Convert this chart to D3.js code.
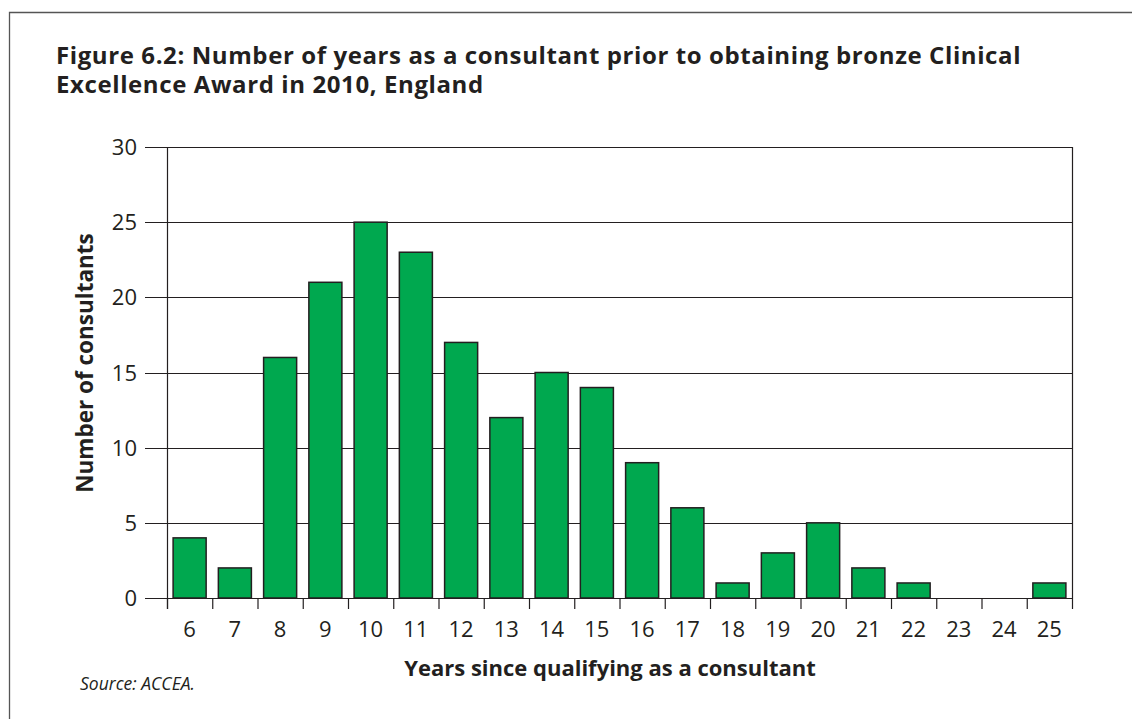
<!DOCTYPE html>
<html>
<head>
<meta charset="utf-8">
<script src="https://cdn.jsdelivr.net/npm/d3@7"></script>
<style>
  body { margin: 0; background: #fff; }
  text { font-family: "Open Sans", "Noto Sans", sans-serif; fill: #231f20; }
</style>
</head>
<body>
<div class="chartcontainer"></div>
<script>
const years = ['6', '7', '8', '9', '10', '11', '12', '13', '14', '15', '16', '17', '18', '19', '20', '21', '22', '23', '24', '25']
const consultants = [4, 2, 16, 21, 25, 23, 17, 12, 15, 14, 9, 6, 1, 3, 5, 2, 1, 0, 0, 1]
const yTicks = [0, 5, 10, 15, 20, 25, 30]

const w = 1132
const h = 719
const plotLeft = 167, plotRight = 1072, plotTop = 147, plotBottom = 598

const svg = d3.select('.chartcontainer')
    .append('svg')
    .attr('width', w)
    .attr('height', h)

// frame
svg.append('path')
    .attr('d', 'M9.5,' + h + 'V12.5H' + w)
    .attr('fill', 'none')
    .attr('stroke', '#555')
    .attr('stroke-width', 1.3)

svg.append('text')
    .attr('x', 56)
    .attr('y', 64)
    .attr('font-weight', 'bold')
    .attr('font-size', 24)
    .attr('letter-spacing', 0.6)
    .selectAll('tspan')
    .data(['Figure 6.2: Number of years as a consultant prior to obtaining bronze Clinical',
           'Excellence Award in 2010, England'])
    .enter()
    .append('tspan')
    .attr('x', 56)
    .attr('dy', (d, i) => i === 0 ? 0 : 29)
    .text(d => d)

const xScale = d3.scaleBand()
    .domain(years)
    .range([plotLeft, plotRight])
    .paddingInner(0.27)
    .paddingOuter(0.135)

const yScale = d3.scaleLinear()
    .domain([0, 30])
    .range([plotBottom, plotTop])

// gridlines
svg.append('g')
    .selectAll('line')
    .data(yTicks)
    .enter()
    .append('line')
    .attr('x1', plotLeft - 22)
    .attr('x2', plotRight)
    .attr('y1', d => Math.round(yScale(d)) + 0.5)
    .attr('y2', d => Math.round(yScale(d)) + 0.5)
    .attr('stroke', '#231f20')
    .attr('stroke-width', 1.2)

// bars
svg.append('g')
    .selectAll('rect')
    .data(consultants)
    .enter()
    .append('rect')
    .attr('x', (d, i) => xScale(years[i]))
    .attr('y', d => yScale(d))
    .attr('width', xScale.bandwidth())
    .attr('height', d => yScale(0) - yScale(d))
    .attr('fill', '#00a84f')
    .attr('stroke', '#231f20')
    .attr('stroke-width', 1.5)

// axes lines
svg.append('line')
    .attr('x1', plotLeft + 0.5).attr('x2', plotLeft + 0.5)
    .attr('y1', plotTop).attr('y2', plotBottom + 11)
    .attr('stroke', '#231f20').attr('stroke-width', 1.2)

svg.append('line')
    .attr('x1', plotRight + 0.5).attr('x2', plotRight + 0.5)
    .attr('y1', plotTop).attr('y2', plotBottom + 11)
    .attr('stroke', '#231f20').attr('stroke-width', 1.2)

// x ticks at band boundaries
const step = xScale.step()
svg.append('g')
    .selectAll('line')
    .data(years)
    .enter()
    .append('line')
    .attr('x1', (d, i) => plotLeft + i * step + 0.5)
    .attr('x2', (d, i) => plotLeft + i * step + 0.5)
    .attr('y1', plotBottom)
    .attr('y2', plotBottom + 11)
    .attr('stroke', '#231f20')
    .attr('stroke-width', 1.2)

svg.append('g')
    .selectAll('text')
    .data(years)
    .enter()
    .append('text')
    .attr('x', d => xScale(d) + xScale.bandwidth() / 2)
    .attr('y', 637)
    .attr('text-anchor', 'middle')
    .attr('font-size', 22)
    .text(d => d)

svg.append('g')
    .selectAll('text')
    .data(yTicks)
    .enter()
    .append('text')
    .attr('x', 137)
    .attr('y', d => yScale(d) + 8)
    .attr('text-anchor', 'end')
    .attr('font-size', 22)
    .text(d => d)

svg.append('text')
    .text('Years since qualifying as a consultant')
    .attr('x', 610)
    .attr('y', 676)
    .attr('text-anchor', 'middle')
    .attr('font-weight', 'bold')
    .attr('font-size', 22)

svg.append('text')
    .text('Number of consultants')
    .attr('transform', 'rotate(-90)')
    .attr('x', -363)
    .attr('y', 93)
    .attr('text-anchor', 'middle')
    .attr('font-weight', 'bold')
    .attr('font-size', 22.5)

svg.append('text')
    .text('Source: ACCEA.')
    .attr('x', 80)
    .attr('y', 690)
    .attr('font-style', 'italic')
    .attr('font-size', 17.5)
</script>
</body>
</html>
